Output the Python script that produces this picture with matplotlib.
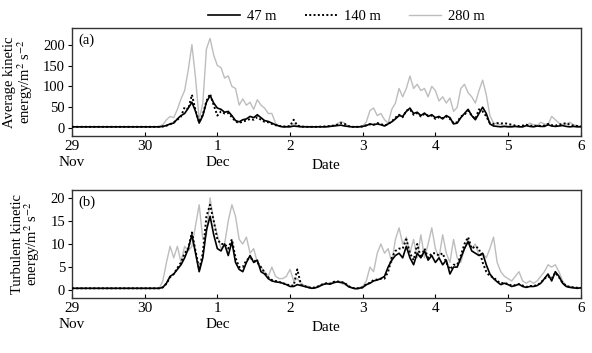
import numpy as np
import matplotlib
matplotlib.use('Agg')
import matplotlib.pyplot as plt

plt.rcParams['font.family'] = ['Liberation Serif', 'DejaVu Serif']
plt.rcParams['mathtext.fontset'] = 'stix'

# time axis: days since 29 Nov 00:00, sampled every 0.05 day
days = np.arange(141) * 0.05

# (a) average kinetic energy, m^2 s^-2
ake_47 = [3]*25 + [4, 6, 10, 12, 22, 30, 35, 48, 62, 40,
                   12, 30, 62, 78, 60, 48, 45, 38, 40, 30,
                   18, 15, 20, 22, 28, 25, 32, 25, 18, 16,
                   12, 8, 5, 3, 3, 3, 5, 4, 3, 3,
                   3, 3, 3, 3, 3, 3, 4, 5, 6, 7,
                   5, 4, 3, 3, 3, 4, 6, 10, 8, 10,
                   8, 5, 10, 15, 22, 30, 28, 40, 48, 35,
                   38, 30, 36, 28, 32, 25, 28, 22, 30, 25,
                   10, 12, 25, 35, 45, 30, 20, 35, 50, 35,
                   10, 5, 4, 3, 4, 3, 3, 4, 3, 3,
                   6, 4, 3, 5, 4, 4, 8, 5, 4, 5, 6, 4, 3, 4, 3, 3]
ake_140 = [3]*25 + [4, 6, 9, 14, 20, 28, 50, 45, 80, 42,
                    14, 32, 65, 82, 55, 30, 40, 35, 36, 26,
                    16, 12, 16, 18, 22, 20, 26, 20, 15, 14,
                    10, 7, 5, 4, 4, 5, 20, 6, 4, 3,
                    3, 3, 3, 3, 4, 4, 5, 6, 8, 12,
                    10, 5, 3, 3, 3, 4, 7, 9, 8, 12,
                    10, 6, 10, 16, 25, 32, 26, 42, 45, 32,
                    36, 28, 34, 30, 30, 22, 26, 24, 28, 22,
                    12, 14, 28, 32, 42, 30, 22, 45, 40, 28,
                    12, 10, 12, 11, 12, 10, 8, 6, 5, 6,
                    8, 6, 5, 6, 5, 6, 10, 7, 6, 8, 10, 12, 8, 6, 5, 4]
ake_280 = [3]*24 + [4, 8, 20, 28, 25, 45, 70, 90, 140, 200,
                    120, 20, 60, 190, 215, 175, 150, 145, 120, 125,
                    100, 95, 55, 70, 55, 62, 45, 68, 55, 48,
                    35, 35, 12, 4, 3, 4, 5, 10, 6, 5,
                    4, 3, 2, 3, 4, 3, 4, 5, 6, 10,
                    16, 12, 4, 3, 2, 3, 5, 15, 42, 48,
                    30, 35, 20, 12, 45, 60, 95, 75, 95, 125,
                    95, 105, 90, 95, 75, 100, 90, 65, 75, 60,
                    72, 40, 50, 95, 105, 85, 75, 60, 90, 115,
                    80, 30, 12, 10, 8, 6, 5, 6, 4, 4,
                    3, 5, 12, 8, 6, 14, 10, 8, 28, 20, 12, 8, 10, 14, 8, 6, 5]

# (b) turbulent kinetic energy, m^2 s^-2
tke_47 = [0.4]*25 + [0.6, 1.5, 3, 3.5, 4.5, 5.5, 7, 9, 12, 8,
                     4, 7, 13, 16, 12, 9, 8.5, 10, 7.5, 10.5,
                     6, 4.5, 4, 6, 7.5, 6, 6.5, 4, 3.5, 2.5,
                     2, 1.8, 1.7, 1.5, 1.2, 0.8, 0.8, 1.2, 1, 0.8,
                     0.6, 0.4, 0.5, 0.8, 1.2, 1.4, 1.3, 1.6, 1.8, 1.7,
                     1.5, 0.8, 0.5, 0.3, 0.4, 0.6, 1.2, 1.5, 2, 2.2,
                     2.5, 3, 5, 6.5, 7.5, 8, 7, 9.5, 7, 5.5,
                     8, 7, 8.5, 6.5, 7.5, 6, 7, 5.5, 6.5, 3.5,
                     5, 5, 7, 9, 10.5, 8.5, 8, 7.5, 8, 5.5,
                     3.5, 2.5, 1.8, 1.2, 1.5, 1.2, 0.8, 1, 1.3, 0.8,
                     0.6, 0.8, 0.8, 1, 1.5, 2.5, 3.5, 2, 4, 3,
                     1.5, 0.8, 0.6, 0.5, 0.4, 0.5]
tke_140 = [0.4]*25 + [0.6, 1.4, 2.8, 3.5, 4.8, 6, 8, 9, 12.5, 8.5,
                      4.5, 8, 16, 18.5, 15, 11, 10, 10, 9, 11,
                      7, 5, 5, 6.5, 7, 6.5, 6, 5, 3.8, 2.8,
                      2.2, 2, 1.8, 1.5, 1.3, 1, 1, 4.5, 1.2, 0.9,
                      0.6, 0.5, 0.6, 0.9, 1.3, 1.5, 1.4, 1.8, 1.9, 1.8,
                      1.6, 0.9, 0.5, 0.4, 0.4, 0.6, 1.3, 1.6, 2.2, 2.3,
                      2.5, 2.5, 4, 7, 8.5, 9, 9, 11, 8, 6.5,
                      10, 7, 9, 7, 8, 8, 7.5, 8, 6, 4.5,
                      5.5, 5.5, 7.5, 10, 11.5, 9, 9.5, 9, 6, 4,
                      3, 2.8, 2, 1.5, 1.6, 1.3, 1, 1.1, 1.3, 1,
                      0.7, 0.9, 0.9, 1.1, 1.6, 2.5, 3, 2.5, 3.8, 2.8,
                      1.6, 0.9, 0.7, 0.6, 0.5, 0.5]
tke_280 = [0.4]*25 + [2, 6, 9.5, 7, 9.5, 6, 9.5, 8.5, 9.5, 14,
                      18.5, 11, 12, 20, 15, 12, 9, 10, 15, 18.5,
                      16, 11, 10, 11.5, 8, 9, 6, 5, 4, 3,
                      5, 3, 2.5, 2.5, 3, 4.5, 2, 2.5, 1.5, 1,
                      0.8, 0.5, 0.6, 1, 1.3, 1.5, 1.5, 1.8, 1.8, 1.5,
                      1.2, 1, 0.6, 0.4, 0.5, 0.8, 2, 5, 4, 8,
                      10, 8, 9, 6, 11, 13.5, 10, 11.5, 8, 11,
                      7, 12, 7, 10, 13.5, 9, 7, 12, 8, 6,
                      11, 7, 6, 9, 11, 9, 10, 7.5, 8, 7,
                      9, 11.5, 6, 4, 3, 2.5, 2, 3, 4, 2,
                      1.5, 2, 1.5, 2, 3, 4, 5.5, 5, 5.5, 4,
                      2, 1, 0.8, 0.6, 0.6, 0.5]

tick_pos = [0, 1, 2, 3, 4, 5, 6, 7]
tick_labels = ['29\nNov', '30', '1\nDec', '2', '3', '4', '5', '6']

fig = plt.figure(figsize=(5.92, 3.53), dpi=100)
ax1 = fig.add_axes([0.1216, 0.6147, 0.8594, 0.306])
ax2 = fig.add_axes([0.1216, 0.1558, 0.8594, 0.306])

panels = [
    (ax1, ake_47, ake_140, ake_280, (-19, 240), [0, 50, 100, 150, 200],
     'Average kinetic\nenergy/m$^2$ s$^{-2}$', '(a)'),
    (ax2, tke_47, tke_140, tke_280, (-1.7, 21.7), [0, 5, 10, 15, 20],
     'Turbulent kinetic\nenergy/m$^2$ s$^{-2}$', '(b)'),
]

for ax, s47, s140, s280, ylim, yticks, ylab, tag in panels:
    ax.plot(days, s280, color='#bdbdbd', lw=1.0, label='280 m', zorder=1)
    ax.plot(days, s47, color='black', lw=1.2, label='47 m', zorder=2)
    ax.plot(days, s140, color='black', lw=1.4, ls=(0, (1, 1.2)), label='140 m', zorder=3)
    ax.set_xlim(0, 7)
    ax.set_ylim(*ylim)
    ax.set_yticks(yticks)
    ax.set_xticks(tick_pos)
    ax.set_xticklabels(tick_labels, fontsize=11, linespacing=1.25)
    ax.tick_params(axis='x', direction='in', length=3, pad=3)
    ax.tick_params(axis='y', direction='out', length=3, labelsize=10.5, pad=2)
    ax.set_xlabel('Date', fontsize=11, labelpad=-7)
    ax.set_ylabel(ylab, fontsize=10.5, linespacing=0.92, labelpad=6)
    ax.text(0.012, 0.95, tag, transform=ax.transAxes, fontsize=10.5, va='top', ha='left')
    for sp in ax.spines.values():
        sp.set_color('#333333')
        sp.set_linewidth(1.0)

handles, labels = ax1.get_legend_handles_labels()
order = [1, 2, 0]
fig.legend([handles[i] for i in order], [labels[i] for i in order],
           loc='upper center', bbox_to_anchor=(0.585, 1.01), ncol=3, frameon=False,
           fontsize=10.5, handlelength=2.2, columnspacing=1.9, handletextpad=0.5)

fig.savefig('out.png', dpi=100)
